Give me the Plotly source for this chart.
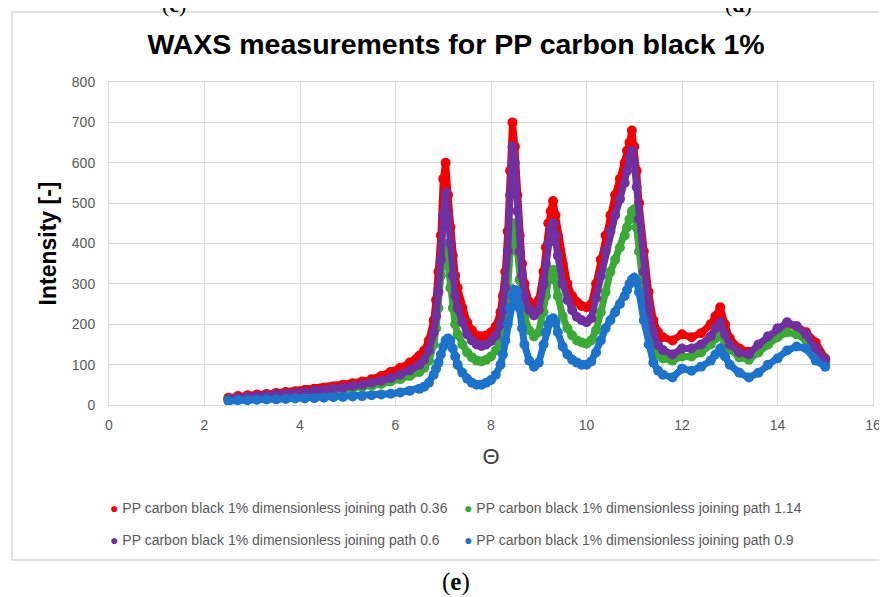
import plotly.graph_objects as go

# theta values (shared by all series)
theta = [
    2.5, 2.7, 2.9, 3.1, 3.3, 3.5, 3.7, 3.9, 4.1, 4.3, 4.5, 4.7, 4.9, 5.1, 5.3, 5.5, 5.7, 5.9, 6.1, 6.3, 6.5,
    6.6, 6.7, 6.8,
    6.85, 6.9, 6.95, 7.0, 7.05, 7.1, 7.15, 7.2, 7.25, 7.3,
    7.4, 7.5, 7.6, 7.7, 7.8, 7.9, 8.0, 8.1, 8.2,
    8.25, 8.3, 8.35, 8.4, 8.45, 8.5, 8.55, 8.6, 8.65, 8.7,
    8.8, 8.9, 9.0, 9.1,
    9.15, 9.2, 9.25, 9.3, 9.35,
    9.4, 9.5, 9.6, 9.7, 9.8, 9.9, 10.0, 10.1, 10.2, 10.3, 10.4, 10.5, 10.6, 10.7, 10.8,
    10.85, 10.9, 10.95, 11.0, 11.05,
    11.1, 11.2, 11.3, 11.4, 11.5, 11.6,
    11.8, 12.0, 12.2, 12.4, 12.6,
    12.7, 12.8, 12.9, 13.0,
    13.2, 13.4, 13.6, 13.8, 14.0, 14.2, 14.4, 14.6, 14.8, 15.0,
]

path_036 = [
    18, 22, 24, 26, 27, 30, 32, 34, 37, 40, 43, 46, 50, 54, 58, 64, 72, 82, 92, 105, 122,
    135, 160, 210,
    260, 330, 420, 560, 600, 520, 440, 370, 320, 290,
    240, 205, 185, 172, 170, 172, 180, 195, 230,
    270, 330, 430, 580, 700, 640, 520, 420, 350, 300,
    255, 240, 260, 330,
    390, 450, 480, 505, 470,
    420, 350, 300, 270, 255, 245, 242, 250, 300, 360, 420, 470, 520, 560, 600,
    630, 650, 680, 640, 580,
    500, 380, 280, 210, 180, 168,
    160, 175, 168, 178, 200,
    220, 242, 200, 165,
    140, 132, 140, 160, 185, 200, 195, 180, 155, 115,
]

path_114 = [
    14, 17, 19, 20, 22, 24, 25, 27, 29, 31, 33, 35, 38, 41, 44, 48, 52, 58, 64, 72, 82,
    92, 110, 150,
    190, 240, 320, 395, 400, 350, 290, 240, 200, 175,
    150, 130, 118, 110, 108, 112, 120, 135, 160,
    190, 230, 290, 380, 450, 440, 380, 310, 260, 220,
    185, 170, 180, 230,
    270, 310, 330, 335, 310,
    270, 220, 190, 172, 160, 155, 152, 160, 185, 230, 280, 330, 360, 390, 420,
    440, 460, 480, 485, 440,
    380, 280, 200, 150, 125, 115,
    110, 120, 120, 130, 150,
    165, 180, 160, 138,
    118, 112, 130, 150, 168, 180, 175, 160, 130, 105,
]

path_06 = [
    15, 18, 20, 22, 24, 26, 28, 30, 32, 35, 37, 40, 43, 47, 50, 55, 60, 67, 75, 86, 100,
    112, 135, 180,
    220, 280, 360, 470, 525, 470, 400, 320, 270, 240,
    205, 175, 160, 150, 146, 150, 158, 172, 200,
    235, 290, 380, 520, 640, 600, 480, 380, 320, 270,
    235, 222, 235, 300,
    350, 400, 435, 450, 420,
    370, 300, 260, 235, 218, 210, 205, 215, 265, 320, 380, 430, 470, 510, 550,
    580, 610, 630, 600, 540,
    460, 330, 240, 180, 148, 136,
    125, 140, 140, 150, 170,
    190, 205, 175, 150,
    130, 125, 150, 170, 190, 205, 195, 175, 140, 112,
]

path_09 = [
    10, 12, 12, 13, 14, 14, 15, 16, 16, 17, 18, 19, 20, 21, 22, 24, 26, 28, 31, 35, 40,
    45, 55, 75,
    90, 105, 125, 145, 160, 165, 160, 140, 120, 100,
    80, 65, 55, 50, 50, 55, 62, 75, 100,
    125, 160, 200, 240, 270, 285, 280, 240, 190, 150,
    110, 95, 105, 150,
    180, 200, 212, 215, 205,
    180, 145, 125, 112, 105, 100, 100, 108, 130, 160, 190, 210, 230, 250, 270,
    285, 300, 310, 315, 305,
    280, 210, 150, 105, 85, 75,
    68, 90, 85, 95, 110,
    125, 140, 120, 100,
    80, 68, 80, 100, 115, 135, 145, 140, 110, 95,
]

series_names = [
    "PP carbon black 1% dimensionless joining path 0.36",
    "PP carbon black 1% dimensionless joining path 1.14",
    "PP carbon black 1% dimensionless joining path 0.6",
    "PP carbon black 1% dimensionless joining path 0.9",
]
series_values = [path_036, path_114, path_06, path_09]
series_colors = ["#f00000", "#3aa935", "#7030a0", "#1d73c9"]

x_ticks = [0, 2, 4, 6, 8, 10, 12, 14, 16]
y_ticks = [0, 100, 200, 300, 400, 500, 600, 700, 800]

sans = "'Liberation Sans', Arial, sans-serif"
serif = "'Liberation Serif', 'Times New Roman', serif"
grey = "#595959"
grid = "#d9d9d9"

# the page body adds 8px around the figure, so the figure is 8px smaller
W, H, OFF = 887 - 8, 597 - 8, 8
L, T, PW, PH = 109, 82, 764, 323  # plot area in page pixels


def px(x):
    return (x - L) / PW


def py(y):
    return (T + PH - y) / PH


fig = go.Figure()
for name, vals, color in zip(series_names, series_values, series_colors):
    fig.add_trace(go.Scatter(
        x=theta,
        y=vals,
        mode="lines+markers",
        name=name,
        showlegend=False,
        line=dict(color=color, width=7),
        marker=dict(color=color, size=10),
    ))

# legend drawn as text so the dots sit close to the labels like the original
legend_pos = [(108, 508), (462, 508), (108, 540), (462, 540)]
legend_notes = [
    dict(text=f'<span style="color:{c}">●</span> {n}', xref="paper", yref="paper",
         x=px(lx), y=py(ly), xanchor="left", yanchor="middle", showarrow=False,
         font=dict(family=sans, size=14, color=grey))
    for n, c, (lx, ly) in zip(series_names, series_colors, legend_pos)
]

fig.update_layout(
    width=W,
    height=H,
    margin=dict(l=L - OFF, r=W - (L - OFF) - PW, t=T - OFF, b=H - (T - OFF) - PH),
    paper_bgcolor="white",
    plot_bgcolor="white",
    showlegend=False,
    title=dict(
        text="<b>WAXS measurements for PP carbon black 1%</b>",
        x=(456 - OFF) / W, xanchor="center",
        y=1 - (44 - OFF) / H, yanchor="middle",
        font=dict(family=sans, size=28.5, color="black"),
    ),
    xaxis=dict(
        range=[0, 16],
        tickvals=x_ticks,
        showgrid=True, gridcolor=grid, gridwidth=1,
        zeroline=False, showline=True, linecolor=grid, mirror=True,
        tickfont=dict(family=sans, size=14, color=grey),
        ticklabelstandoff=7,
        title=dict(text="Θ", font=dict(family=sans, size=22, color="#404040"), standoff=16),
        automargin=False,
    ),
    yaxis=dict(
        range=[0, 800],
        tickvals=y_ticks,
        showgrid=True, gridcolor=grid, gridwidth=1,
        zeroline=False, showline=True, linecolor=grid, mirror=True,
        tickfont=dict(family=sans, size=14, color=grey),
        ticklabelstandoff=10,
        title=dict(text="<b>Intensity [-]</b>",
                   font=dict(family="'Liberation Sans Narrow', " + sans, size=23, color="black"),
                   standoff=8),
        automargin=False,
    ),
    shapes=[dict(
        type="rect", xref="paper", yref="paper",
        x0=px(12), x1=px(885), y0=py(560), y1=py(12),
        line=dict(color=grid, width=1.5),
        layer="below",
    )],
    annotations=legend_notes + [
        dict(text="(<b>c</b>)", xref="paper", yref="paper",
             x=px(160), y=py(4), yanchor="middle", showarrow=False,
             font=dict(family=serif, size=22, color="black")),
        dict(text="(<b>d</b>)", xref="paper", yref="paper",
             x=px(754), y=py(4), yanchor="middle", showarrow=False,
             font=dict(family=serif, size=22, color="black")),
        dict(text="(<b>e</b>)", xref="paper", yref="paper",
             x=px(456), y=py(582), yanchor="middle", showarrow=False,
             font=dict(family=serif, size=25, color="black")),
    ],
)

fig.write_html("out.html")
